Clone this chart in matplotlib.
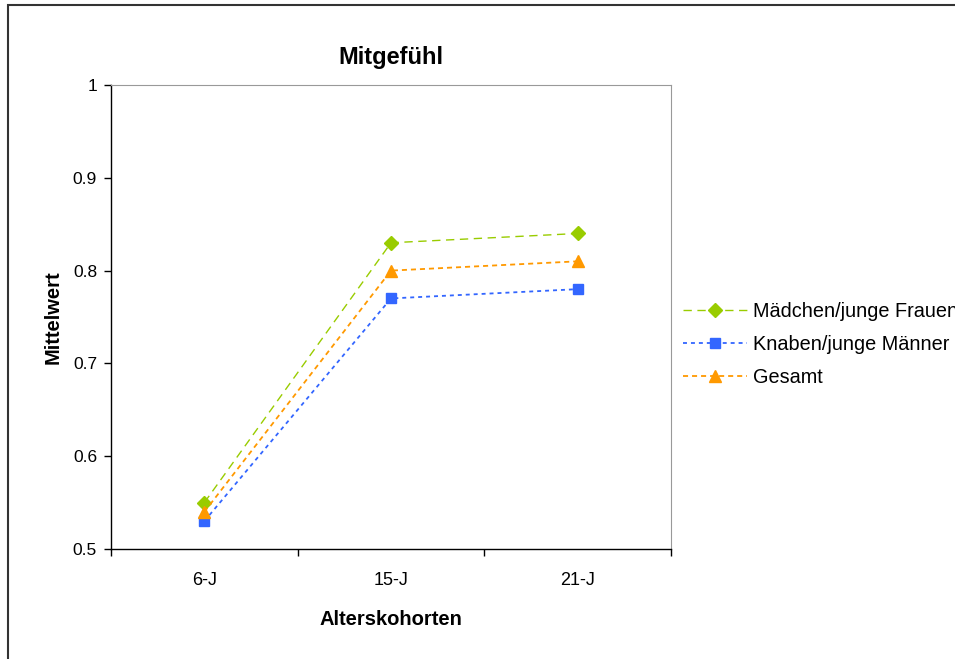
import matplotlib
matplotlib.use("Agg")
import matplotlib.pyplot as plt
from matplotlib.patches import Rectangle

# ── data ──────────────────────────────────────────────────────────────────────
categories = ["6-J", "15-J", "21-J"]
maedchen = [0.55, 0.83, 0.84]
knaben = [0.53, 0.77, 0.78]
gesamt = [0.54, 0.80, 0.81]
yticks = [0.5, 0.6, 0.7, 0.8, 0.9, 1.0]
ytick_labels = ["0.5", "0.6", "0.7", "0.8", "0.9", "1"]

plt.rcParams["font.family"] = ["Liberation Sans", "DejaVu Sans"]

C_GRN = "#99CC00"
C_BLU = "#3366FF"
C_ORG = "#FF9900"

fig = plt.figure(figsize=(9.55, 6.59), dpi=100)
ax = fig.add_axes([111 / 955, 1 - 549 / 659, 560 / 955, 464 / 659])

x = list(range(len(categories)))
ax.plot(x, maedchen, color=C_GRN, lw=1.0, ls=(0, (6, 4)), marker="D", ms=7.5,
        mec=C_GRN, mfc=C_GRN, label="Mädchen/junge Frauen")
ax.plot(x, knaben, color=C_BLU, lw=1.3, ls=(0, (2.2, 2.2)), marker="s", ms=6.5,
        mec=C_BLU, mfc=C_BLU, label="Knaben/junge Männer")
ax.plot(x, gesamt, color=C_ORG, lw=1.3, ls=(0, (2.8, 2.2)), marker="^", ms=8,
        mec=C_ORG, mfc=C_ORG, label="Gesamt")

ax.set_xlim(-0.5, 2.5)
ax.set_ylim(0.5, 1.0)
ax.set_yticks(yticks)
ax.set_yticklabels(ytick_labels)
ax.set_xticks(x)
ax.set_xticklabels(categories)
ax.set_xticks([-0.5, 0.5, 1.5, 2.5], minor=True)
ax.tick_params(axis="x", which="major", length=0, pad=16.5, labelsize=13)
ax.tick_params(axis="x", which="minor", length=5, width=1, direction="out")
ax.tick_params(axis="y", length=5, width=1, direction="out", labelsize=12.5, pad=5)

for side in ("top", "right"):
    ax.spines[side].set_color("#999999")
    ax.spines[side].set_linewidth(0.8)
for side in ("left", "bottom"):
    ax.spines[side].set_color("black")
    ax.spines[side].set_linewidth(1.0)

ax.set_title("Mitgefühl", fontsize=17, fontweight="bold", pad=15)
ax.set_ylabel("Mittelwert", fontsize=14.5, fontweight="bold", labelpad=7.5)
ax.set_xlabel("Alterskohorten", fontsize=14.5, fontweight="bold", labelpad=15)

# legend runs off the right edge, as in the original chart
fig.legend(loc="upper left", bbox_to_anchor=(683 / 955, 1 - 302 / 659),
           frameon=False, fontsize=14.3, handlelength=3.2, handletextpad=0.3,
           labelspacing=0.7, borderpad=0, borderaxespad=0)

# outer chart border, running off the right and bottom edges
fig.add_artist(Rectangle((7.5 / 955, -0.1), 1.2, 1.1 - 4.5 / 659,
                         transform=fig.transFigure, fill=False,
                         edgecolor="#333333", lw=1.5))

fig.savefig("out.png", dpi=100)
